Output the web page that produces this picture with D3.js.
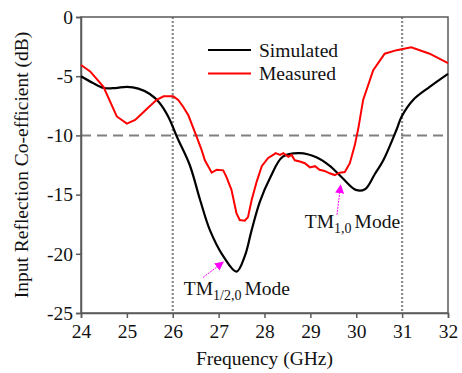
<!DOCTYPE html>
<html><head><meta charset="utf-8">
<script src="https://cdn.jsdelivr.net/npm/d3@7"></script>
<style>body{margin:0;background:#fff}svg{display:block}text{font-family:"Liberation Serif","Times New Roman",serif}</style>
</head><body><svg id="c" width="462" height="373"></svg>
<script>
const simFreq = [24.0,24.25,24.5,24.75,25.0,25.25,25.5,25.7,25.9,26.1,26.37,26.6,26.81,27.1,27.39,27.57,27.72,27.9,28.12,28.4,28.77,29.13,29.43,29.7,29.99,30.19,30.4,30.59,30.88,30.99,31.24,31.6,32.0];
const simVal = [-5.0,-5.55,-6.0,-6.0,-5.9,-6.05,-6.5,-7.2,-8.4,-10.2,-12.5,-15.5,-18.0,-20.2,-21.5,-20.2,-18.0,-15.6,-13.6,-11.8,-11.5,-11.85,-12.6,-13.6,-14.6,-14.55,-13.3,-12.1,-9.5,-8.4,-7.0,-5.9,-4.8];
const measFreq = [24.0,24.2,24.49,24.78,25.0,25.18,25.29,25.45,25.65,25.8,26.01,26.12,26.23,26.34,26.52,26.63,26.7,26.85,26.96,27.1,27.17,27.28,27.39,27.46,27.57,27.64,27.72,27.83,27.94,28.08,28.19,28.24,28.34,28.41,28.52,28.59,28.66,28.77,28.88,28.99,29.1,29.2,29.31,29.42,29.53,29.64,29.75,29.86,29.97,30.05,30.15,30.37,30.62,30.88,31.2,31.6,32.0];
const measVal = [-4.05,-4.6,-5.9,-8.4,-9.0,-8.7,-8.3,-7.7,-7.0,-6.7,-6.7,-7.0,-7.6,-8.3,-10.1,-11.25,-12.1,-13.15,-12.9,-12.95,-13.5,-14.6,-16.6,-17.15,-17.2,-16.9,-15.45,-13.9,-12.6,-11.9,-11.65,-11.5,-11.65,-11.5,-11.8,-11.65,-12.1,-12.2,-12.35,-12.7,-12.6,-12.9,-13.0,-13.2,-13.35,-13.15,-13.1,-12.35,-10.8,-9.3,-7.0,-4.5,-3.1,-2.8,-2.55,-3.1,-3.9];
const xTicks = [24,25,26,27,28,29,30,31,32];
const yTicks = [0,-5,-10,-15,-20,-25];
const seriesNames = ["Simulated","Measured"];
const seriesColors = ["#000000","#ff0000"];
const vLines = [26,31];
const hLine = -10;
const annotations = [
  {main:"TM", sub:"1/2,0", rest:"Mode", tx:26.24, ty:-23.5, ax0:26.66, ay0:-22.0, ax1:27.1, ay1:-20.7},
  {main:"TM", sub:"1,0", rest:"Mode", tx:28.88, ty:-17.8, ax0:29.58, ay0:-16.7, ax1:29.66, ay1:-14.2}
];

const W=462,H=373,m={l:81,t:17,r:14,b:60};
const svg=d3.select("#c");
const x=d3.scaleLinear().domain([24,32]).range([m.l,W-m.r]);
const y=d3.scaleLinear().domain([-25,0]).range([H-m.b,m.t]);
const axCol="#5a5a5a";

// reference lines
svg.append("g").selectAll("line").data(vLines).join("line")
  .attr("x1",d=>x(d)).attr("x2",d=>x(d)).attr("y1",y(0)).attr("y2",y(-25))
  .attr("stroke","#8a8a8a").attr("stroke-width",2.2).attr("stroke-dasharray","2,2");
svg.append("line").attr("x1",x(24)).attr("x2",x(32)).attr("y1",y(hLine)).attr("y2",y(hLine))
  .attr("stroke","#808080").attr("stroke-width",2).attr("stroke-dasharray","10,6");

// frame
svg.append("rect").attr("x",x(24)).attr("y",y(0)).attr("width",x(32)-x(24)).attr("height",y(-25)-y(0))
  .attr("fill","none").attr("stroke",axCol).attr("stroke-width",1.5);

const xa=svg.append("g").attr("transform",`translate(0,${y(-25)})`)
  .call(d3.axisBottom(x).tickValues(xTicks).tickSize(5).tickPadding(6).tickFormat(d3.format("d")));
const ya=svg.append("g").attr("transform",`translate(${x(24)},0)`)
  .call(d3.axisLeft(y).tickValues(yTicks).tickSize(5).tickPadding(3).tickFormat(d=>d===0?"0":String(d)));
[xa,ya].forEach(g=>{g.select(".domain").attr("stroke",axCol).attr("stroke-width",1.5);
  g.selectAll(".tick line").attr("stroke",axCol).attr("stroke-width",1.5);
  g.selectAll("text").attr("fill","#111").style("font-size","19.5px").style("font-family",'"Liberation Serif",serif');});

// curves
const line=d3.line().x(d=>x(d[0])).y(d=>y(d[1]));
const simData=simFreq.map((f,i)=>[f,simVal[i]]);
const measData=measFreq.map((f,i)=>[f,measVal[i]]);
svg.append("path").datum(simData).attr("d",line.curve(d3.curveCatmullRom.alpha(0.5)))
  .attr("fill","none").attr("stroke",seriesColors[0]).attr("stroke-width",2.2);
svg.append("path").datum(measData).attr("d",d3.line().x(d=>x(d[0])).y(d=>y(d[1])))
  .attr("fill","none").attr("stroke",seriesColors[1]).attr("stroke-width",2);

// legend
const lg=svg.append("g");
seriesNames.forEach((n,i)=>{
  const yy=50+i*23.5;
  lg.append("line").attr("x1",208).attr("x2",251).attr("y1",yy).attr("y2",yy).attr("stroke",seriesColors[i]).attr("stroke-width",2.2);
  lg.append("text").attr("x",259).attr("y",yy+6.5).text(n).style("font-size","19.5px").attr("fill","#111");
});

// annotations
const defs=svg.append("defs");
defs.append("marker").attr("id","ah").attr("viewBox","0 0 10 10").attr("refX",9).attr("refY",5)
  .attr("markerWidth",9).attr("markerHeight",9).attr("markerUnits","userSpaceOnUse").attr("orient","auto")
  .append("path").attr("d","M0,0L10,5L0,10Z").attr("fill","#ff00ff");
annotations.forEach(a=>{
  svg.append("line").attr("x1",x(a.ax0)).attr("y1",y(a.ay0)).attr("x2",x(a.ax1)).attr("y2",y(a.ay1))
    .attr("stroke","#ff00ff").attr("stroke-width",1).attr("stroke-dasharray","2,1").attr("marker-end","url(#ah)");
  const t=svg.append("text").attr("x",x(a.tx)).attr("y",y(a.ty)).style("font-size","19.5px").attr("fill","#111");
  t.append("tspan").text(a.main);
  t.append("tspan").attr("dy",5).style("font-size","14px").text(a.sub);
  t.append("tspan").attr("dy",-5).attr("dx",3).text(a.rest);
});

// axis titles
svg.append("text").attr("x",(x(24)+x(32))/2).attr("y",365).attr("text-anchor","middle")
  .style("font-size","19.5px").attr("fill","#111").text("Frequency (GHz)");
svg.append("text").attr("transform",`translate(28,${(y(0)+y(-25))/2}) rotate(-90)`).attr("text-anchor","middle")
  .style("font-size","19.5px").attr("fill","#111").text("Input Reflection Co-efficient (dB)");
</script></body></html>
